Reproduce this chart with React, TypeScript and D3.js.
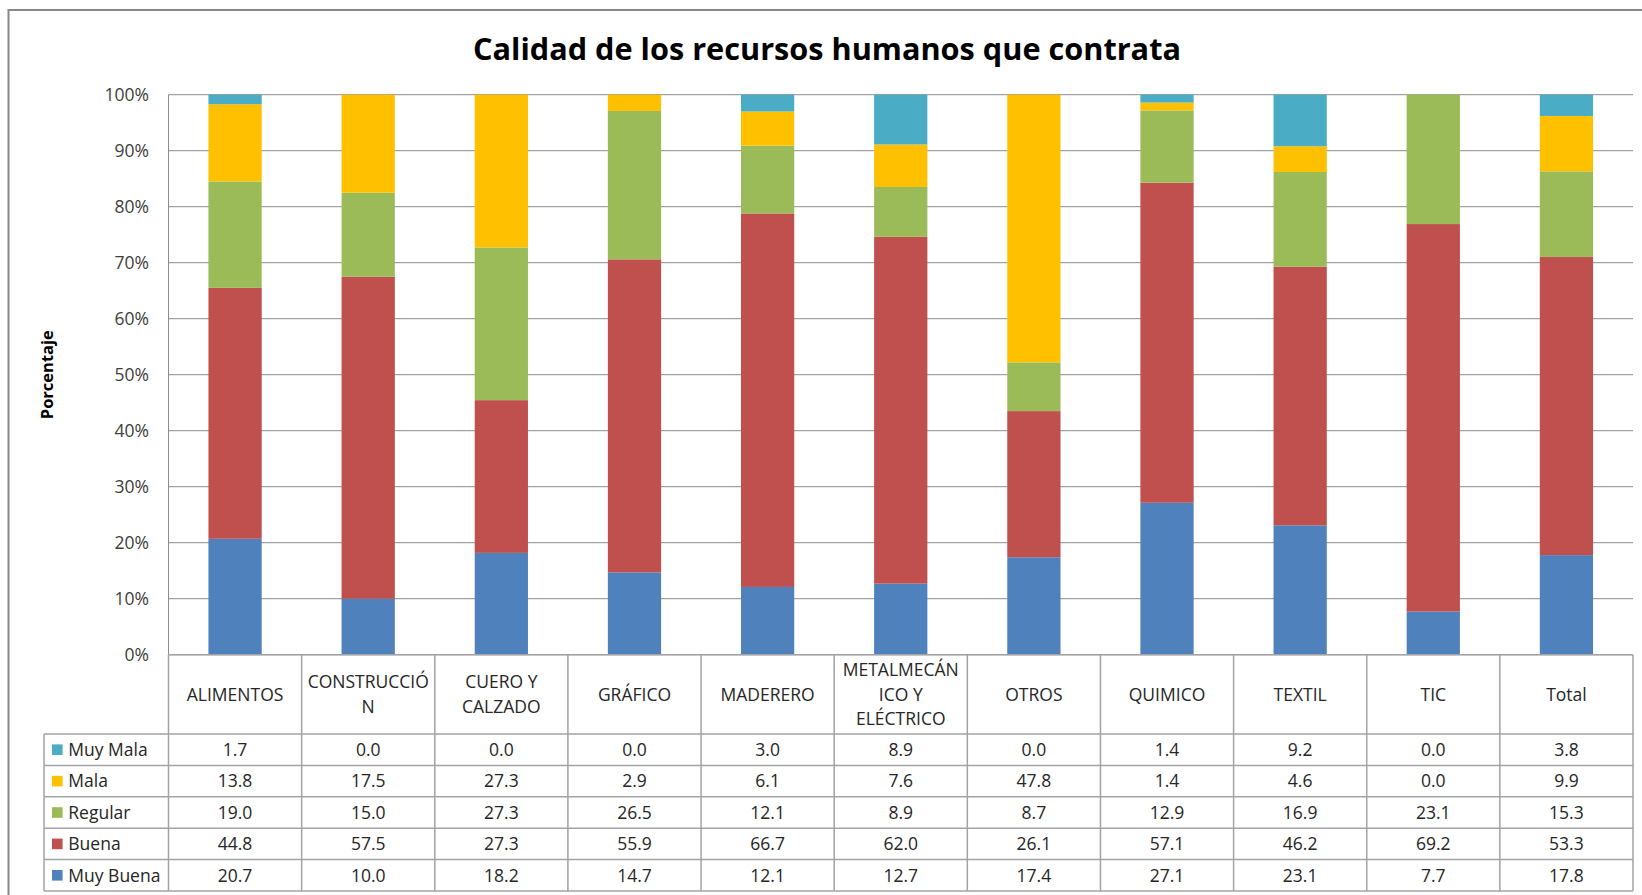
import React from "react";
import * as d3 from "d3";

const categories = ["ALIMENTOS", "CONSTRUCCIÓN", "CUERO Y CALZADO", "GRÁFICO", "MADERERO", "METALMECÁNICO Y ELÉCTRICO", "OTROS", "QUIMICO", "TEXTIL", "TIC", "Total"];
const headerLines = [["ALIMENTOS"], ["CONSTRUCCIÓ", "N"], ["CUERO Y", "CALZADO"], ["GRÁFICO"], ["MADERERO"], ["METALMECÁN", "ICO Y", "ELÉCTRICO"], ["OTROS"], ["QUIMICO"], ["TEXTIL"], ["TIC"], ["Total"]];

const muyMala = [1.7, 0.0, 0.0, 0.0, 3.0, 8.9, 0.0, 1.4, 9.2, 0.0, 3.8];
const mala = [13.8, 17.5, 27.3, 2.9, 6.1, 7.6, 47.8, 1.4, 4.6, 0.0, 9.9];
const regular = [19.0, 15.0, 27.3, 26.5, 12.1, 8.9, 8.7, 12.9, 16.9, 23.1, 15.3];
const buena = [44.8, 57.5, 27.3, 55.9, 66.7, 62.0, 26.1, 57.1, 46.2, 69.2, 53.3];
const muyBuena = [20.7, 10.0, 18.2, 14.7, 12.1, 12.7, 17.4, 27.1, 23.1, 7.7, 17.8];

const yTicks = [0, 0.1, 0.2, 0.3, 0.4, 0.5, 0.6, 0.7, 0.8, 0.9, 1.0];

// bottom to top stacking order
const seriesKeys = ["Muy Buena", "Buena", "Regular", "Mala", "Muy Mala"];
const seriesValues: Record<string, number[]> = {
  "Muy Buena": muyBuena,
  "Buena": buena,
  "Regular": regular,
  "Mala": mala,
  "Muy Mala": muyMala,
};
const colors: Record<string, string> = {
  "Muy Buena": "#4f81bd",
  "Buena": "#c0504d",
  "Regular": "#9bbb59",
  "Mala": "#ffc000",
  "Muy Mala": "#4bacc6",
};
// table row order (top to bottom)
const tableOrder = ["Muy Mala", "Mala", "Regular", "Buena", "Muy Buena"];

const FONT = "'Open Sans', 'Noto Sans', sans-serif";

export default function App() {
  const W = 1642, H = 895;
  const plotLeft = 168.5, plotRight = 1633, plotTop = 94.7, plotBottom = 654.7;
  const headerBottom = 734;
  const rowH = 31.4;
  const legendLeft = 44;

  const rows = categories.map((c, i) => {
    const r: any = { cat: c };
    seriesKeys.forEach((k) => (r[k] = seriesValues[k][i]));
    return r;
  });
  const stacked = d3.stack<any>().keys(seriesKeys).offset(d3.stackOffsetExpand)(rows);

  const x = d3.scaleBand<string>().domain(categories).range([plotLeft, plotRight]).padding(0);
  const y = d3.scaleLinear().domain([0, 1]).range([plotBottom, plotTop]);
  const bw = x.bandwidth();
  const barW = bw * 0.4;
  const fmtPct = d3.format(".0%");

  const tableBottom = headerBottom + rowH * tableOrder.length;
  const gridColor = "#8c8c8c";
  const tableColor = "#a3a3a3";
  const textColor = "#262626";

  return (
    <svg width={W} height={H} style={{ position: "absolute", left: 0, top: 0, background: "#fff" }} fontFamily={FONT}>
      <rect x={0} y={0} width={W} height={H} fill="#fff" />
      {/* outer frame */}
      <rect x={8.5} y={10} width={W + 20} height={H + 20} fill="none" stroke="#878787" strokeWidth={2} />
      {/* title */}
      <text x={827} y={60} textAnchor="middle" fontSize={30} fontWeight="bold" fill="#000" textLength={708} lengthAdjust="spacingAndGlyphs">
        Calidad de los recursos humanos que contrata
      </text>
      {/* gridlines */}
      {yTicks.map((t) => (
        <line key={t} x1={plotLeft} x2={plotRight} y1={y(t)} y2={y(t)} stroke={gridColor} strokeWidth={1} />
      ))}
      {/* y tick labels */}
      {yTicks.map((t) => (
        <text key={"l" + t} x={149} y={y(t) + 6.3} textAnchor="end" fontSize={17.5} fill="#404040">
          {fmtPct(t)}
        </text>
      ))}
      {/* y axis title */}
      <text transform={`translate(53,${(plotTop + plotBottom) / 2}) rotate(-90)`} textAnchor="middle" fontSize={16.5} fontWeight="bold" fill="#000">
        Porcentaje
      </text>
      {/* bars */}
      {stacked.map((s) => (
        <g key={s.key} fill={colors[s.key]}>
          {s.map((d, i) => (
            <rect key={i} x={(x(categories[i]) as number) + (bw - barW) / 2} y={y(d[1])} width={barW} height={Math.max(0, y(d[0]) - y(d[1]))} />
          ))}
        </g>
      ))}
      {/* axis line */}
      <line x1={plotLeft} x2={plotLeft} y1={plotTop} y2={plotBottom} stroke={gridColor} strokeWidth={1} />
      {/* table */}
      <g stroke={tableColor} strokeWidth={1.5} fill="none">
        <line x1={plotLeft} x2={plotRight} y1={plotBottom} y2={plotBottom} />
        {tableOrder.map((k, r) => (
          <line key={k} x1={legendLeft} x2={plotRight} y1={headerBottom + r * rowH} y2={headerBottom + r * rowH} />
        ))}
        <line x1={legendLeft} x2={plotRight} y1={tableBottom} y2={tableBottom} />
        <line x1={legendLeft} x2={legendLeft} y1={headerBottom} y2={tableBottom} />
        {categories.map((c) => (
          <line key={c} x1={x(c) as number} x2={x(c) as number} y1={plotBottom} y2={tableBottom} />
        ))}
        <line x1={plotRight} x2={plotRight} y1={plotBottom} y2={tableBottom} />
      </g>
      {/* header texts */}
      {headerLines.map((lines, i) => {
        const cx = (x(categories[i]) as number) + bw / 2;
        const mid = (plotBottom + headerBottom) / 2;
        const lh = 24.5;
        const startY = mid - ((lines.length - 1) * lh) / 2 + 6.3;
        return (
          <text key={i} textAnchor="middle" fontSize={17.5} fill={textColor}>
            {lines.map((l, j) => (
              <tspan key={j} x={cx} y={startY + j * lh}>
                {l}
              </tspan>
            ))}
          </text>
        );
      })}
      {/* rows */}
      {tableOrder.map((k, r) => {
        const mid = headerBottom + r * rowH + rowH / 2;
        return (
          <g key={k}>
            <rect x={52} y={mid - 5.3} width={10.6} height={10.6} fill={colors[k]} />
            <text x={68.3} y={mid + 6.3} fontSize={17.5} fill={textColor}>
              {k}
            </text>
            {seriesValues[k].map((v, i) => (
              <text key={i} x={(x(categories[i]) as number) + bw / 2} y={mid + 6.3} textAnchor="middle" fontSize={17.5} fill={textColor}>
                {v.toFixed(1)}
              </text>
            ))}
          </g>
        );
      })}
    </svg>
  );
}
